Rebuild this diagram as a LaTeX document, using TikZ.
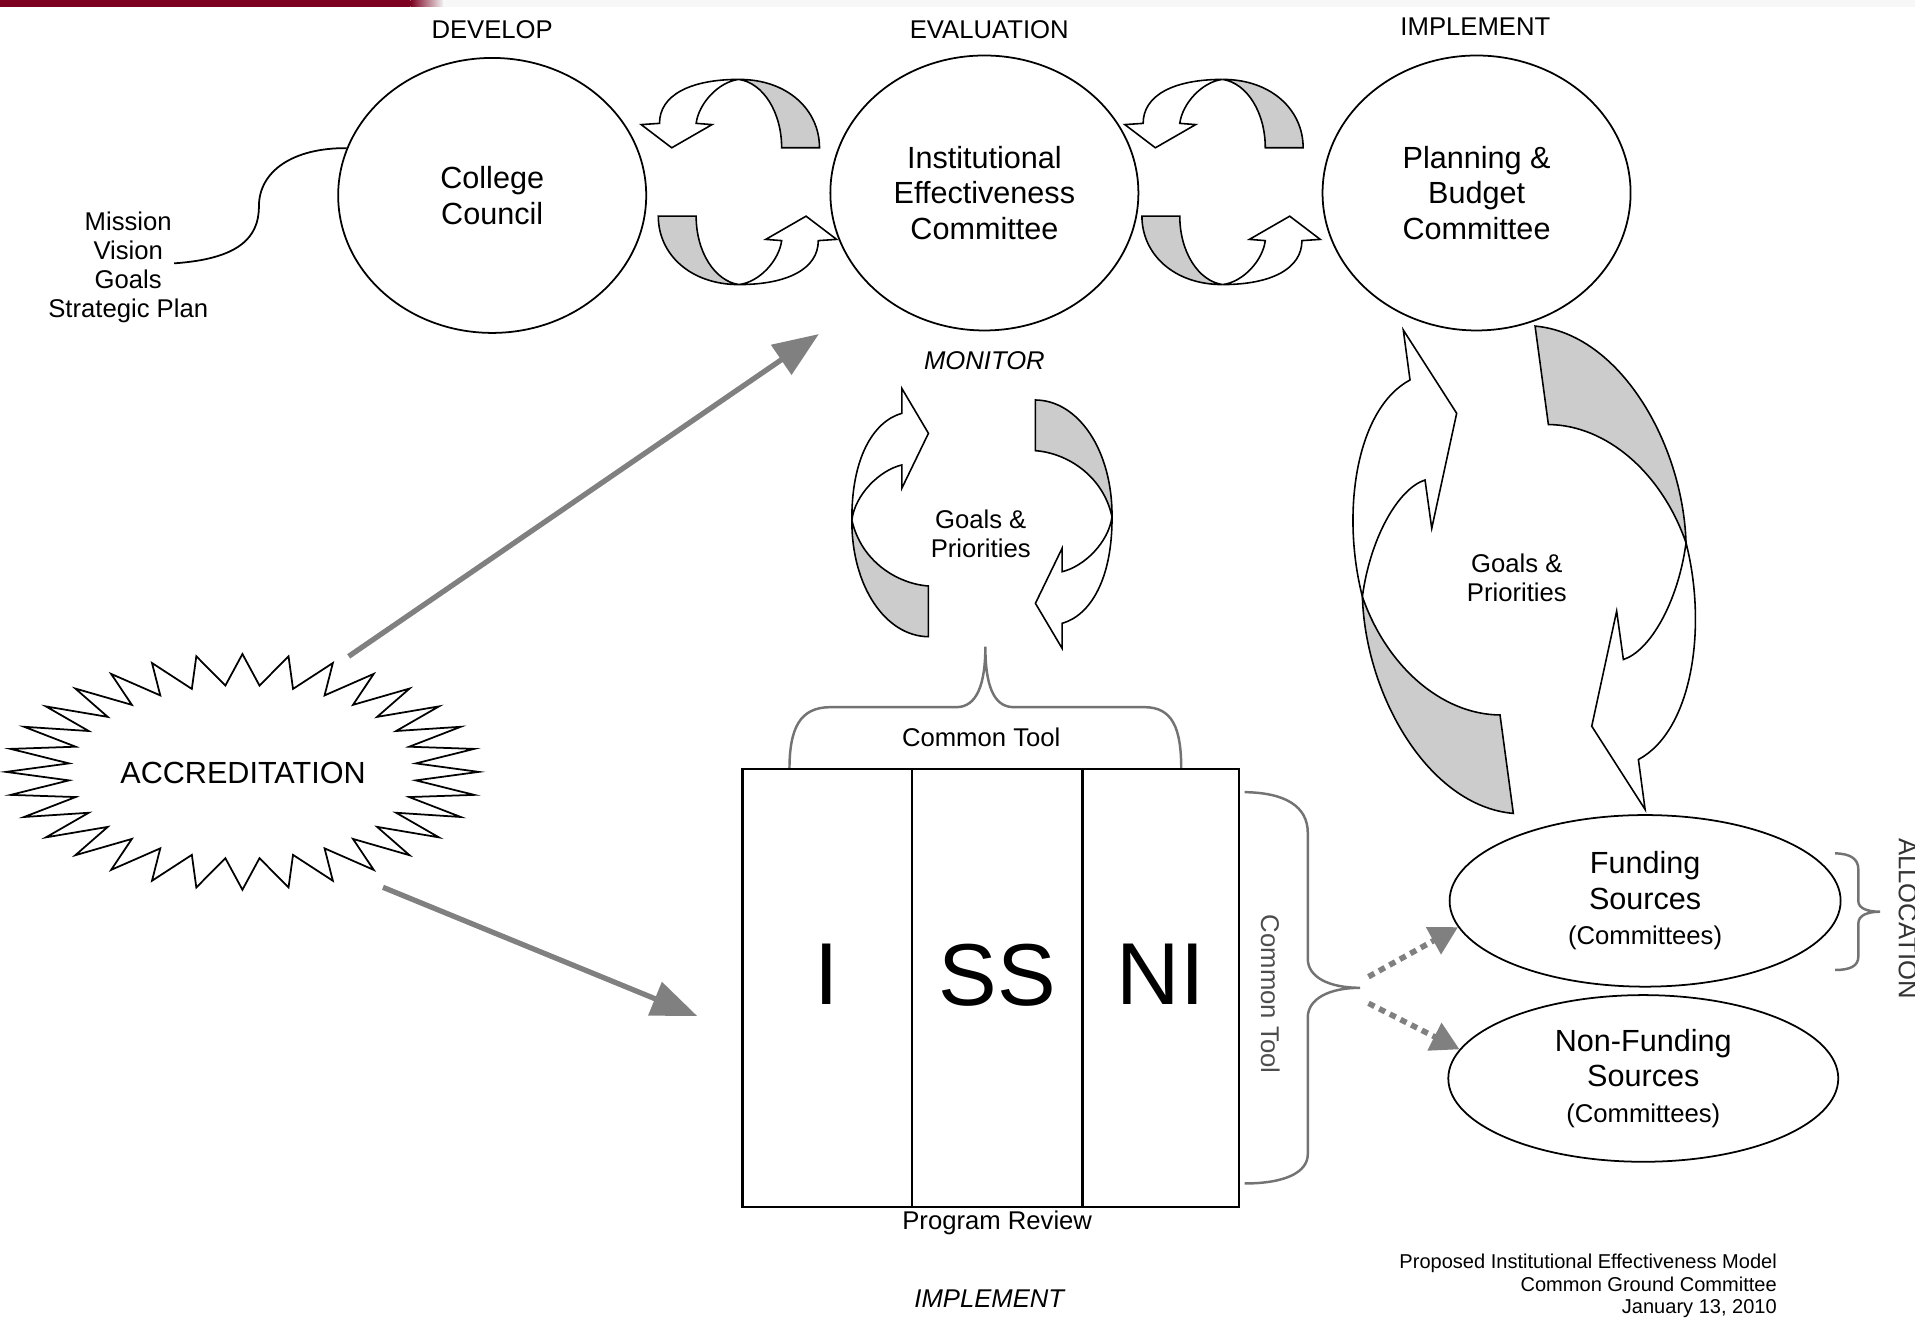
\documentclass[tikz,border=0pt]{standalone}
\usepackage{fontspec}
\setmainfont{Liberation Sans}
\usetikzlibrary{arrows.meta,positioning,shapes.geometric}
\definecolor{barred}{RGB}{125,0,32}
\newcommand{\fsbig}{\fontsize{8.7pt}{10.1pt}\selectfont}
\newcommand{\fssmall}{\fontsize{7.3pt}{8.2pt}\selectfont}
\newcommand{\fsfoot}{\fontsize{5.7pt}{6.4pt}\selectfont}
\newcommand{\fshuge}{\fontsize{25pt}{28pt}\selectfont}
\newcommand{\hribbon}{%
  \path[ribbonback] (0,-84) .. controls (40,-84) and (66,-59) .. (66,-28) -- (35,-28) .. controls (35,-57) and (20,-81) .. (0,-84) -- cycle;
  \path[ribbonfront] (0,-84) .. controls (-40,-84) and (-65,-71) .. (-65,-48) -- (-80,-47) -- (-55,-28) -- (-22,-47) -- (-35,-48) .. controls (-33,-64) and (-17,-82) .. (0,-84) -- cycle;}
\newcommand{\vribbon}{%
  \path[ribbonfront] (-106.5,1.4) .. controls (-106.9,-49.4) and (-88.9,-79.4) .. (-65.6,-86) -- (-65.6,-106.4) -- (-43.8,-69.6) -- (-65.6,-24.6) -- (-65.6,-43.7) .. controls (-83.9,-39.4) and (-103.9,-19.4) .. (-106.5,1.4) -- cycle;
  \path[ribbonback] (-106.5,1.4) .. controls (-106.9,55.6) and (-78.9,96.6) .. (-43.8,96.9) -- (-43.8,55.4) .. controls (-68.9,53.6) and (-98.9,35.6) .. (-106.5,1.4) -- cycle;}
\newcommand{\bribbon}{%
  \path[ribbonfront] (-132.5,22) .. controls (-150,-46.5) and (-138,-131.5) .. (-93.5,-155.4) -- (-99,-196.3) -- (-55.3,-128.1) -- (-75.7,-33.9) -- (-81.2,-73.5) .. controls (-103,-66.5) and (-126,-26.5) .. (-132.5,22) -- cycle;
  \path[ribbonback] (-132.5,22) .. controls (-130,103.5) and (-78,193.5) .. (-8.9,199.5) -- (-19.8,118.9) .. controls (-68,118.5) and (-113,78.5) .. (-132.5,22) -- cycle;}

\begin{document}
\begin{tikzpicture}[x=0.012213cm, y=-0.012213cm,
  committee/.style={draw, ellipse, line width=0.5pt, minimum width=87.6pt, minimum height=78.2pt, inner sep=0pt, align=center, font=\fsbig},
  source/.style={draw, ellipse, line width=0.5pt, inner sep=0pt, align=center, font=\fsbig},
  stage/.style={font=\fssmall},
  column/.style={draw, rectangle, line width=0.6pt, minimum height=124.4pt, inner sep=0pt, outer sep=0pt, font=\fshuge, text depth=7.6pt},
  brace/.style={draw=black!55, line width=0.7pt},
  ribbonback/.style={draw, fill=gray!40, line width=0.45pt},
  ribbonfront/.style={draw, fill=white, line width=0.45pt},
  feed/.style={draw=gray, line width=1.5pt, -{Triangle[length=13pt,width=10pt]}},
  route/.style={draw=gray, line width=1.6pt, dash pattern=on 1.9pt off 1.5pt, -{Triangle[length=8pt,width=8.5pt]}}]
\useasboundingbox (0,0) rectangle (1568,1082);

\fill[barred] (0,0) rectangle (336,5.5);
\shade[left color=barred, right color=gray!10] (336,0) rectangle (363,5.5);
\fill[gray!6] (363,0) rectangle (1568,5.5);

\begin{scope}[shift={(605,149)}]
  \hribbon
  \begin{scope}[rotate=180]\hribbon\end{scope}
\end{scope}
\begin{scope}[shift={(1001,149)}]
  \hribbon
  \begin{scope}[rotate=180]\hribbon\end{scope}
\end{scope}
\begin{scope}[shift={(804,424.4)}]
  \vribbon
  \begin{scope}[rotate=180]\vribbon\end{scope}
\end{scope}
\begin{scope}[shift={(1248,466.5)}]
  \bribbon
  \begin{scope}[rotate=180]\bribbon\end{scope}
\end{scope}

\node[stage] (dev) at (403,24) {DEVELOP};
\node[stage] (eva) at (810,24) {EVALUATION};
\node[stage] (imp) at (1208,22) {IMPLEMENT};

\node[committee] (cc) at (403,160) {College\\Council};
\node[committee] (iec) at (806,158) {Institutional\\Effectiveness\\Committee};
\node[committee] (pbc) at (1209,158) {Planning \&\\Budget\\Committee};
\node[stage, font=\fssmall\itshape] (mon) at (806,295) {MONITOR};

\node[stage, align=center] (mvg) at (105,219) {Mission\\Vision\\Goals\\Strategic Plan};
\coordinate (mvgend) at (142.6,215.6);
\draw[line width=0.5pt] (mvgend) .. controls (195,212) and (212,195) .. (212,169) .. controls (212,140) and (240,121) .. (cc.162);

\node[stage, align=center] (gp1) at (803,437) {Goals \&\\Priorities};
\node[stage, align=center] (gp2) at (1242,473) {Goals \&\\Priorities};

\draw[line width=0.5pt] plot[domain=0:64, samples=65] ({198.5+(168.1+25.4*cos(180*\x))*cos(90+5.625*\x)}, {632-(83.75+12.75*cos(180*\x))*sin(90+5.625*\x)}) -- cycle;
\node[font=\fsbig] (acc) at (199,633) {ACCREDITATION};
\coordinate (accne) at (285.5,537.4);
\coordinate (accse) at (313.6,726.5);
\coordinate (iecin) at (670.5,273.5);
\coordinate (prin) at (570.9,831.9);
\draw[feed] (accne) -- (iecin);
\draw[feed] (accse) -- (prin);

\draw[brace] (646.4,630) .. controls (646.4,596) and (655,579) .. (680,579) -- (783,579) .. controls (800,579) and (806.8,560) .. (806.8,529.4) .. controls (806.8,560) and (813,579) .. (830,579) -- (937,579) .. controls (960,579) and (967.2,596) .. (967.2,630);
\node[stage] (ct1) at (803.4,604) {Common Tool};

\node[column, minimum width=48.2pt] (ci) at (677.3,809) {I};
\node[column, minimum width=48.5pt, right=0pt of ci] (css) {SS};
\node[column, minimum width=44.4pt, right=0pt of css] (cni) {NI};
\node[stage, below=0pt of css, inner sep=1pt] (prv) {Program Review};
\node[stage, font=\fssmall\itshape] (impl) at (810,1063) {IMPLEMENT};

\draw[brace] (1019,648.6) .. controls (1052,649) and (1070.8,660) .. (1070.8,682) -- (1070.8,785) .. controls (1070.8,800) and (1088,808.8) .. (1113.6,808.8) .. controls (1088,808.8) and (1070.8,818) .. (1070.8,833) -- (1070.8,945) .. controls (1070.8,960) and (1052,969) .. (1019,969);
\node[stage, rotate=-90, text=black!70] (ct2) at (1040,814) {Common Tool};

\node[source, minimum width=111.2pt, minimum height=48.8pt] (fund) at (1347,737.6) {Funding\\Sources\\{\fssmall(Committees)}};
\node[source, minimum width=110.9pt, minimum height=47.4pt] (nonfund) at (1345.5,883) {Non-Funding\\Sources\\{\fssmall(Committees)}};
\coordinate (rbt1) at (1120.5,799.7);
\coordinate (rbt2) at (1120.5,821.5);
\draw[route] (rbt1) -- (fund.188);
\draw[route] (rbt2) -- (nonfund.171);

\draw[brace] (1502.5,698.7) .. controls (1515,699) and (1521.6,703) .. (1521.6,712) -- (1521.6,738) .. controls (1521.6,744) and (1530,746.5) .. (1539.3,746.5) .. controls (1530,746.5) and (1521.6,749) .. (1521.6,756) -- (1521.6,783) .. controls (1521.6,791) and (1515,794.2) .. (1502.5,794.2);
\node[stage, rotate=-90, text=black!80] (alloc) at (1562,752) {ALLOCATION};

\node[font=\fsfoot, align=right, anchor=east] (note) at (1465,1053) {Proposed Institutional Effectiveness Model\\Common Ground Committee\\January 13, 2010};
\end{tikzpicture}
\end{document}
